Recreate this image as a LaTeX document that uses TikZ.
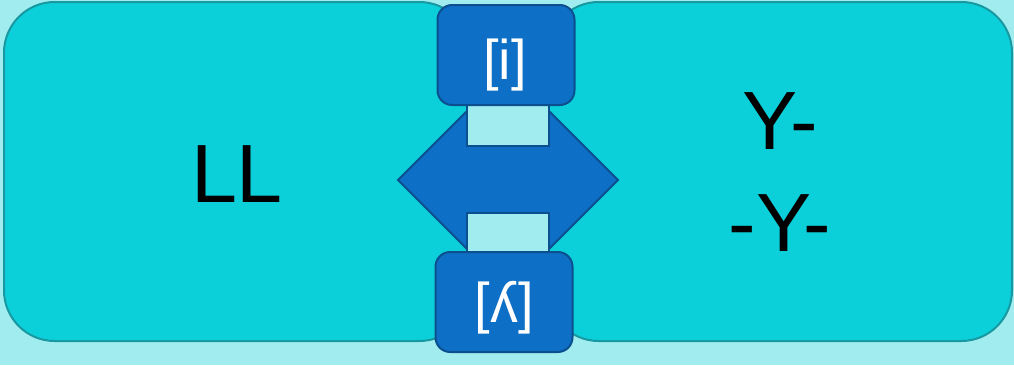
\documentclass[tikz,border=0pt]{standalone}
\usepackage{fontspec}
\setmainfont{Liberation Sans}
\begin{document}
\begin{tikzpicture}[x=0.75pt,y=-0.75pt,
  bigbox/.style={draw=boxline, fill=boxcyan, line width=1.5pt, rounded corners=38pt},
  smallbox/.style={draw=arrowline, fill=arrowblue, line width=1.5pt, rounded corners=11pt, minimum width=102.75pt, minimum height=75pt},
  notch/.style={draw=arrowline, fill=bgcyan, line width=1.5pt},
  bigtext/.style={font=\fontsize{62}{76}\selectfont, text=black, align=center},
  smalltext/.style={font=\fontsize{42}{46}\selectfont, text=white}]
\definecolor{bgcyan}{HTML}{A0ECEE}
\definecolor{boxcyan}{HTML}{0BD0DA}
\definecolor{arrowblue}{HTML}{0E6FC6}
\definecolor{arrowline}{HTML}{0B4F8E}
\definecolor{boxline}{HTML}{1898A0}
\fill[bgcyan] (0,0) rectangle (1014,365);
\useasboundingbox (0,0) rectangle (1014,365);
% big boxes
\draw[bigbox] (4,2) rectangle (470,341);
\draw[bigbox] (548,2) rectangle (1012,341);
\node[bigtext] (ll) at (237,174) {LL};
\node[bigtext] (yy) at (780,172) {Y-\\-Y-};
% double arrow
\draw[fill=arrowblue, draw=arrowline, line width=1.5pt]
  (398,180) -- (467,111) -- (549,111) -- (618,180) -- (549,249) -- (467,249) -- cycle;
\draw[notch] (467,100) rectangle (549,146);
\draw[notch] (467,213) rectangle (549,258);
% small boxes
\node[smallbox] (top) at (506,55) {};
\node[smalltext] (toplabel) at (505,65) {[i]};
\node[smallbox] (bot) at (504,302) {};
\node[smalltext] (botlabel) at (504,308) {[ʎ]};
\end{tikzpicture}
\end{document}
